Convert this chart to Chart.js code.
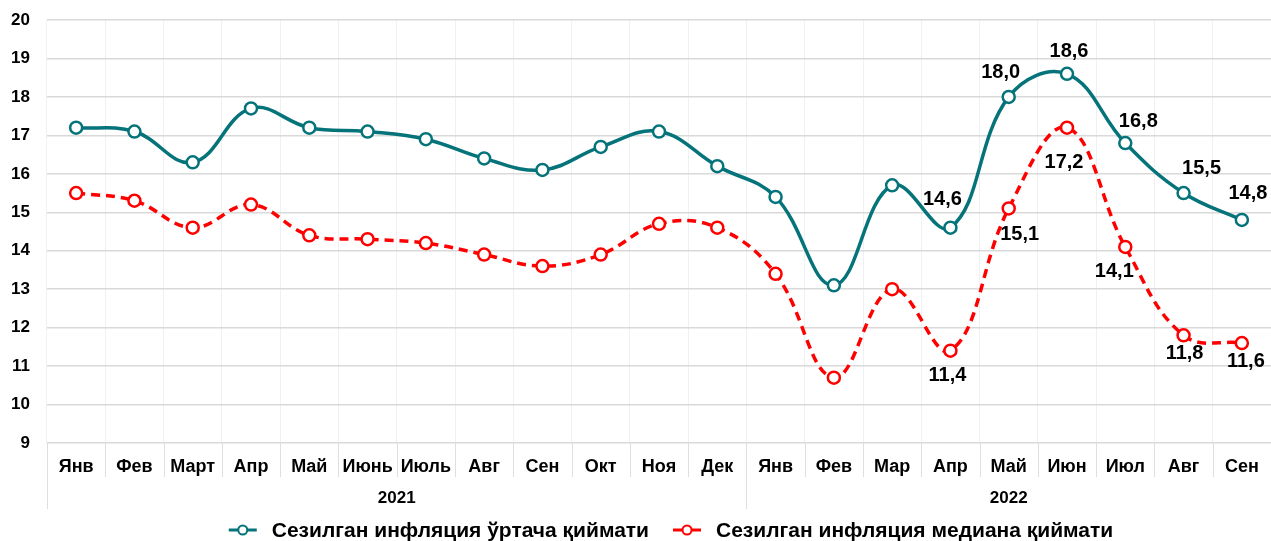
<!DOCTYPE html>
<html>
<head>
<meta charset="utf-8">
<script src="https://cdn.jsdelivr.net/npm/chart.js@4/dist/chart.umd.min.js"></script>
<style>
  html, body { margin: 0; padding: 0; background: #fff; }
  #wrap { width: 1271px; height: 541px; position: relative; }
</style>
</head>
<body>
<div id="wrap"><canvas id="chart"></canvas></div>
<script>
const categories = ['Янв', 'Фев', 'Март', 'Апр', 'Май', 'Июнь', 'Июль', 'Авг', 'Сен', 'Окт', 'Ноя', 'Дек',
  'Янв', 'Фев', 'Мар', 'Апр', 'Май', 'Июн', 'Июл', 'Авг', 'Сен'];
const years = ['2021', '2022'];
const monthsPerYear = [12, 9];
const averageValues = [17.2, 17.1, 16.3, 17.7, 17.2, 17.1, 16.9, 16.4, 16.1, 16.7, 17.1, 16.2,
  15.4, 13.1, 15.7, 14.6, 18.0, 18.6, 16.8, 15.5, 14.8];
const medianValues = [15.5, 15.3, 14.6, 15.2, 14.4, 14.3, 14.2, 13.9, 13.6, 13.9, 14.7, 14.6,
  13.4, 10.7, 13.0, 11.4, 15.1, 17.2, 14.1, 11.8, 11.6];
const seriesNames = ['Сезилган инфляция ўртача қиймати', 'Сезилган инфляция медиана қиймати'];
const yTicks = [9, 10, 11, 12, 13, 14, 15, 16, 17, 18, 19, 20];

const labelStart = 15; // data labels only shown from Apr 2022
// label offsets (dx, dy) from the point, per dataset, for the labelled points
const labelOffsets = [
  [[-8, -28], [-8, -24], [2, -22], [13, -22], [18, -25], [6, -26]],
  [[-3, 25], [11, 26], [-3, 35], [-11, 25], [1, 18], [4, 18]]
];

const teal = '#05737a';
const red = '#ff0000';
const font = '"Liberation Sans", Arial, sans-serif';

const extras = {
  id: 'extras',
  afterDraw(chart) {
    const ctx = chart.ctx;
    const x = chart.scales.x;
    const area = chart.chartArea;
    const step = x.getPixelForValue(1) - x.getPixelForValue(0);
    ctx.save();

    // month separators in label row and year separators
    ctx.strokeStyle = '#dcdfe6';
    ctx.lineWidth = 1;
    for (let i = 0; i <= categories.length; i++) {
      const px = Math.round(x.getPixelForValue(i) - step / 2) + 0.5;
      let isYearEdge = i === 0;
      let acc = 0;
      monthsPerYear.forEach(n => { acc += n; if (i === acc && i < categories.length) isYearEdge = true; });
      ctx.beginPath();
      ctx.moveTo(px, area.bottom);
      ctx.lineTo(px, isYearEdge ? area.bottom + 66 : area.bottom + 34);
      ctx.stroke();
    }

    // year labels
    ctx.fillStyle = '#000';
    ctx.font = 'bold 17px ' + font;
    ctx.textAlign = 'center';
    ctx.textBaseline = 'middle';
    let start = 0;
    years.forEach((yr, k) => {
      const a = x.getPixelForValue(start) - step / 2;
      const b = x.getPixelForValue(start + monthsPerYear[k] - 1) + step / 2;
      ctx.fillText(yr, (a + b) / 2, area.bottom + 55);
      start += monthsPerYear[k];
    });

    // data labels
    ctx.font = 'bold 20px ' + font;
    chart.data.datasets.forEach((ds, d) => {
      const meta = chart.getDatasetMeta(d);
      for (let i = labelStart; i < ds.data.length; i++) {
        const p = meta.data[i];
        const off = labelOffsets[d][i - labelStart];
        ctx.fillText(ds.data[i].toFixed(1).replace('.', ','), p.x + off[0], p.y + off[1]);
      }
    });

    // legend (centred a bit right of the plot centre, like the original)
    ctx.font = 'bold 21px ' + font;
    ctx.textAlign = 'left';
    const colors = [teal, red];
    const markerW = 28, gapText = 15, gapItems = 24;
    const widths = seriesNames.map(n => ctx.measureText(n).width);
    const total = widths.reduce((s, w) => s + w + markerW + gapText, 0) + gapItems;
    let lx = (area.left + area.right) / 2 - total / 2 + 12;
    const ly = 530;
    seriesNames.forEach((name, k) => {
      ctx.strokeStyle = colors[k];
      ctx.lineWidth = 3;
      ctx.setLineDash([]);
      ctx.beginPath();
      ctx.moveTo(lx, ly);
      ctx.lineTo(lx + markerW, ly);
      ctx.stroke();
      ctx.beginPath();
      ctx.arc(lx + markerW / 2, ly, 4.5, 0, Math.PI * 2);
      ctx.fillStyle = '#fff';
      ctx.fill();
      ctx.lineWidth = 2;
      ctx.stroke();
      ctx.fillStyle = '#000';
      ctx.fillText(name, lx + markerW + gapText, ly + 1);
      lx += markerW + gapText + widths[k] + gapItems;
    });
    ctx.restore();
  }
};

new Chart(document.getElementById('chart'), {
  type: 'line',
  data: {
    labels: categories,
    datasets: [
      {
        label: seriesNames[0],
        data: averageValues,
        borderColor: teal,
        borderWidth: 3.5,
        tension: 0.4,
        pointRadius: 6,
        pointBorderWidth: 2.5,
        pointBackgroundColor: '#fff',
        pointBorderColor: teal
      },
      {
        label: seriesNames[1],
        data: medianValues,
        borderColor: red,
        borderWidth: 3.5,
        borderDash: [9, 6],
        tension: 0.4,
        pointRadius: 6,
        pointBorderWidth: 2.5,
        pointBackgroundColor: '#fff',
        pointBorderColor: red
      }
    ]
  },
  options: {
    responsive: true,
    maintainAspectRatio: false,
    animation: false,
    layout: { autoPadding: false, padding: { top: 20, right: 0, left: 0, bottom: 0 } },
    plugins: {
      legend: { display: false },
      tooltip: { enabled: false }
    },
    scales: {
      x: {
        offset: true,
        grid: { offset: true, color: '#eef0f4', drawTicks: false },
        border: { display: false },
        ticks: {
          color: '#000',
          padding: 13,
          maxRotation: 0,
          autoSkip: false,
          font: { family: font, size: 18, weight: 'bold' }
        },
        afterFit: scale => { scale.height = 98; scale.paddingLeft = 0; scale.paddingRight = 0; }
      },
      y: {
        min: 9,
        max: 20,
        afterBuildTicks: scale => { scale.ticks = yTicks.map(v => ({ value: v })); },
        grid: { color: '#d9d9d9', lineWidth: 1.5, drawTicks: false },
        border: { display: false },
        ticks: {
          color: '#000',
          padding: 17,
          font: { family: font, size: 17, weight: 'bold' }
        },
        afterFit: scale => { scale.width = 47; scale.paddingTop = 0; scale.paddingBottom = 0; }
      }
    }
  },
  plugins: [extras]
});
</script>
</body>
</html>
